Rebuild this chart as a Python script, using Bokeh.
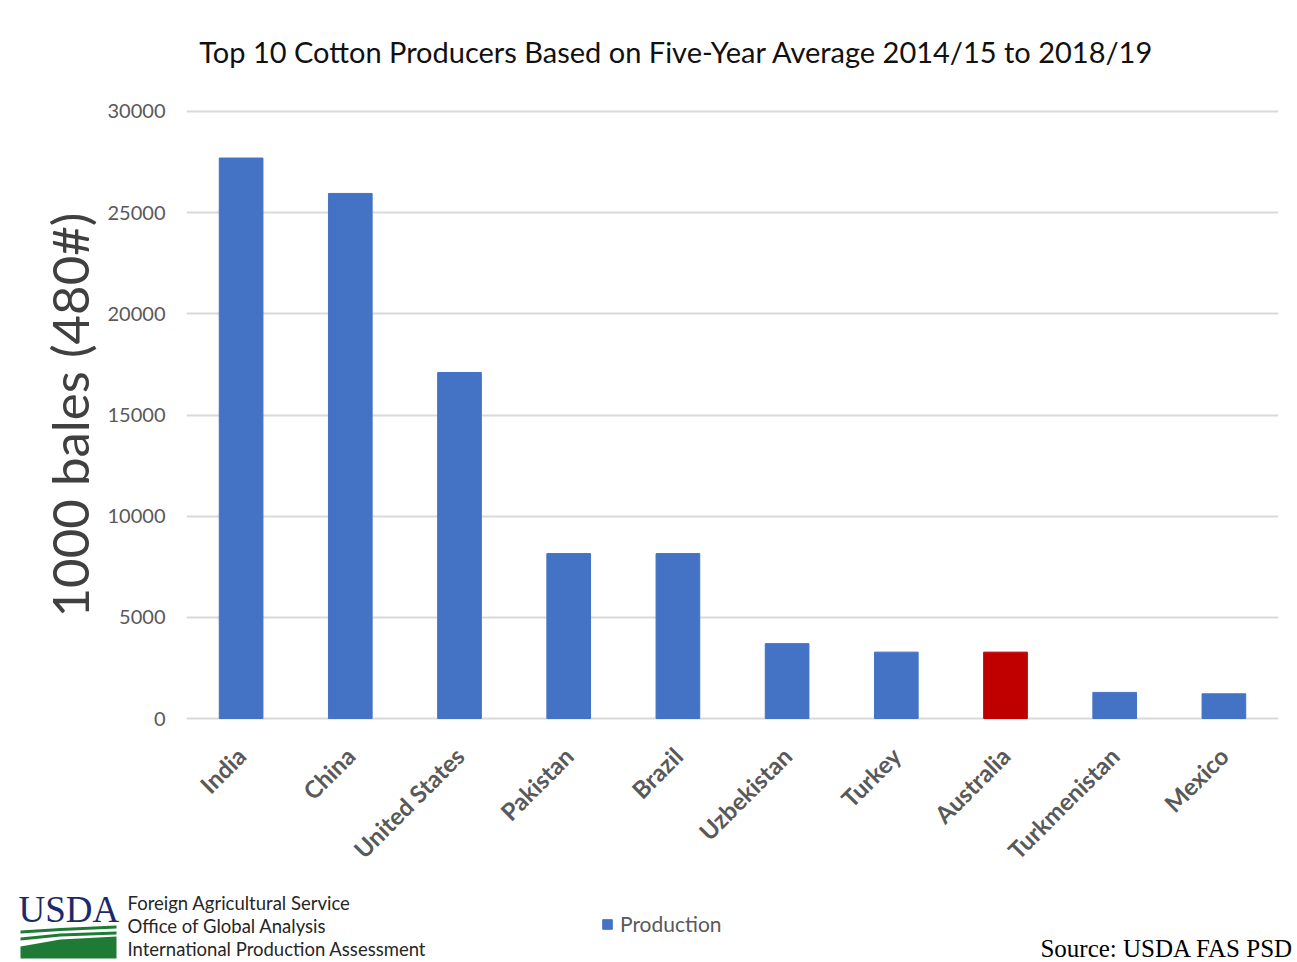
from math import pi
from bokeh.plotting import figure
from bokeh.models import (FactorRange, FixedTicker, Legend, LegendItem,
                          ColumnDataSource, Range1d)
from bokeh.core.properties import value
from bokeh.embed import file_html
from bokeh.resources import INLINE

# ---- data ----
countries = ["India", "China", "United States", "Pakistan", "Brazil",
             "Uzbekistan", "Turkey", "Australia", "Turkmenistan", "Mexico"]
production = [27700, 25950, 17100, 8150, 8150, 3700, 3280, 3280, 1290, 1220]
highlight = "Australia"
y_ticks = [0, 5000, 10000, 15000, 20000, 25000, 30000]
title_text = "Top 10 Cotton Producers Based on Five-Year Average 2014/15 to 2018/19"
y_label = "1000 bales (480#)"
series_name = "Production"
source_note = "Source: USDA FAS PSD"
agency_lines = ["Foreign Agricultural Service", "Office of Global Analysis",
                "International Production Assessment"]
logo_word = "USDA"

BLUE = "#4472C4"
RED = "#C00000"
GREEN = "#1f7a36"
FONT = "Lato"

W = 1297
H_HEAD = 90
H_MAIN = 888 - H_HEAD
H_FOOT = 962 - 888


def strip(fig):
    fig.outline_line_color = None
    fig.axis.visible = False
    fig.grid.visible = False
    fig.background_fill_color = "white"
    fig.border_fill_color = "white"


# ---- header (title) in page pixel coordinates ----
h = figure(x_range=Range1d(0, W), y_range=Range1d(H_HEAD, 0),
           width=W, height=H_HEAD, output_backend="svg", toolbar_location=None,
           min_border=0, min_border_left=0, min_border_right=0,
           min_border_top=0, min_border_bottom=0)
strip(h)
h.text(x=[676], y=[51], text=[title_text], text_font=value(FONT),
       text_font_size="29px", text_color="#111111", text_align="center",
       text_baseline="middle")

# ---- main chart ----
pad = 148  # small extension so the top/bottom grid lines are not clipped
p = figure(x_range=FactorRange(*countries), y_range=Range1d(-pad, 30000 + pad),
           width=W, height=H_MAIN, output_backend="svg", toolbar_location=None,
           min_border_left=186, min_border_right=19, min_border_top=108 - H_HEAD,
           min_border_bottom=888 - 721)
p.outline_line_color = None
p.background_fill_color = "white"
p.border_fill_color = "white"

colors = [RED if c == highlight else BLUE for c in countries]
src = ColumnDataSource(dict(country=countries, production=production, color=colors))
p.vbar(x="country", top="production", width=0.4, fill_color="color",
       line_color="color", line_width=1, source=src)

p.xgrid.grid_line_color = None
p.ygrid.grid_line_color = "#d9d9d9"
p.ygrid.grid_line_width = 2
p.ygrid.ticker = FixedTicker(ticks=y_ticks)

ya = p.yaxis[0]
ya.ticker = FixedTicker(ticks=y_ticks)
ya.axis_line_color = None
ya.major_tick_line_color = None
ya.minor_tick_line_color = None
ya.major_label_text_font = FONT
ya.major_label_text_font_size = "20px"
ya.major_label_text_color = "#595959"
ya.major_label_standoff = 15
ya.axis_label = y_label
ya.axis_label_text_font = FONT
ya.axis_label_text_font_size = "51px"
ya.axis_label_text_font_style = "normal"
ya.axis_label_text_color = "#404040"
ya.axis_label_standoff = 5

xa = p.xaxis[0]
xa.axis_line_color = None
xa.major_tick_line_color = None
xa.minor_tick_line_color = None
xa.major_label_orientation = pi / 4
xa.major_label_text_font = FONT
xa.major_label_text_font_size = "24px"
xa.major_label_text_font_style = "bold"
xa.major_label_text_color = "#595959"
xa.major_label_standoff = 24

# ---- footer (logo, agency, legend, source) in page pixel coordinates ----
f = figure(x_range=Range1d(0, W), y_range=Range1d(962, 888),
           width=W, height=H_FOOT, output_backend="svg", toolbar_location=None,
           min_border=0, min_border_left=0, min_border_right=0,
           min_border_top=0, min_border_bottom=0)
strip(f)

f.text(x=[18], y=[909], text=[logo_word], text_font=value("Liberation Serif"),
       text_font_size="37px", text_color="#1b2a6b", text_align="left",
       text_baseline="middle")
logo_xs = [[20, 60, 116, 116, 60, 20],
           [20, 60, 116, 116, 60, 20],
           [20, 60, 116, 116, 20]]
logo_ys = [[930, 927.5, 925, 928, 930.5, 933],
           [937, 933, 931, 934, 936, 940],
           [946, 939, 936, 958, 958]]
f.patches(xs=logo_xs, ys=logo_ys, fill_color=GREEN, line_color=None)

f.text(x=[127] * len(agency_lines), y=[902 + 23 * i for i in range(len(agency_lines))],
       text=agency_lines, text_font=value(FONT), text_font_size="18.5px",
       text_color="#262626", text_align="left", text_baseline="middle")

f.text(x=[1293], y=[948], text=[source_note], text_font=value("Liberation Serif"),
       text_font_size="25px", text_color="black", text_align="right",
       text_baseline="middle")

# legend swatch renderer (no visible bar of its own)
proxy = f.vbar(x=[float("nan")], top=[float("nan")], width=1,
               fill_color=BLUE, line_color=BLUE)
legend = Legend(items=[LegendItem(label=series_name, renderers=[proxy])],
                location=(601, 26), orientation="horizontal",
                border_line_color=None, background_fill_alpha=0, margin=0, padding=0,
                glyph_width=12, glyph_height=12, label_standoff=7, label_height=20,
                label_text_font=FONT, label_text_font_size="21px",
                label_text_color="#595959")
f.add_layout(legend, "center")

open("out.html", "w").write(file_html([h, p, f], INLINE))
